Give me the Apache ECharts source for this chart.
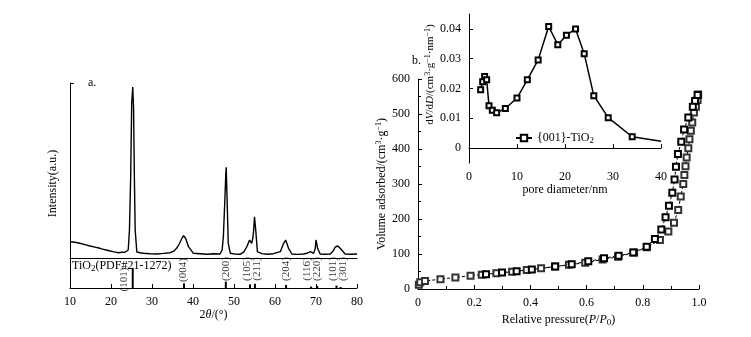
<!DOCTYPE html>
<html>
<head>
<meta charset="utf-8">
<script src="https://cdn.jsdelivr.net/npm/echarts@6/dist/echarts.min.js"></script>
<style>
  html, body { margin: 0; padding: 0; background: #fff; }
  #main { width: 751px; height: 337px; }
</style>
</head>
<body>
<div id="main"></div>
<script>
// ---- XRD pattern (a.)
var xrdTheta = [10, 11.2, 12.4, 13.6, 14.9, 16.1, 17.3, 18.6, 19.8, 20.8, 21.8, 22.6, 23.4, 24.2, 24.5, 24.8, 25.05, 25.2, 25.3, 25.4, 25.5, 25.7, 25.9, 26.3, 27.1, 27.9, 29.5, 31.2, 32.8, 34.4, 35.3, 36.0, 36.7, 37.3, 37.7, 38.2, 38.9, 40.1, 41.7, 43.4, 45.0, 46.6, 47.1, 47.4, 47.8, 48.0, 48.1, 48.3, 48.6, 49.1, 50.3, 51.5, 52.4, 53.1, 53.8, 54.3, 54.6, 54.8, 55.0, 55.3, 55.7, 56.8, 58.0, 59.6, 61.3, 62.1, 62.6, 63.3, 64.1, 65.5, 67.0, 68.0, 68.6, 69.4, 69.8, 70.0, 70.4, 71.0, 72.2, 73.5, 74.2, 74.7, 75.3, 75.9, 76.3, 77.1, 78.5, 80];
var xrdCounts = [16.3, 15.8, 14.7, 13.4, 12.0, 10.9, 9.7, 8.2, 7.0, 6.1, 5.3, 5.8, 5.7, 8, 28, 81, 154.7, 164, 171, 160, 151, 81, 28, 6, 5.2, 4.7, 4.3, 4.0, 4.6, 5.3, 6.8, 9.7, 14.5, 19.7, 22.3, 19.7, 11.3, 4.7, 4.2, 3.7, 4.3, 4.0, 8, 21, 61, 84, 90.7, 61, 14.7, 4.7, 3.9, 3.7, 6.2, 11, 18, 14.7, 20, 28, 41.3, 28, 6.3, 4.4, 3.7, 4.3, 6.3, 14.7, 18, 9.7, 4.0, 3.6, 4.0, 5.0, 6.3, 4.7, 9, 18, 9.7, 4.0, 3.8, 4.0, 7.0, 11, 12, 9.7, 8, 4.0, 3.7, 4.0];

// ---- PDF#21-1272 reference sticks
var stickTheta = [25.3, 37.8, 48.0, 53.9, 55.1, 62.7, 68.8, 70.3, 75.0, 76.0];
var stickHeight = [100, 23, 32, 18, 21, 15, 7, 10, 12, 5];
var hklLabels = ['(101)', '(004)', '(200)', '(105)', '(211)', '(204)', '(116)', '(220)', '(101)', '(301)'];
var hklTheta = [23.3, 37.6, 48.0, 53.3, 55.7, 62.7, 67.9, 70.3, 74.2, 76.6];
var hklLevel = [42, 90, 95, 95, 95, 95, 95, 95, 95, 95];

// ---- N2 isotherm (b.)
var adsP = [0.003, 0.008, 0.025, 0.08, 0.133, 0.187, 0.227, 0.279, 0.335, 0.387, 0.438, 0.488, 0.537, 0.595, 0.657, 0.712, 0.769, 0.814, 0.861, 0.891, 0.911, 0.926, 0.935, 0.944, 0.948, 0.952, 0.956, 0.962, 0.966, 0.971, 0.976, 0.982, 0.989, 0.995, 0.997];
var adsV = [12, 19, 23, 28, 33, 38, 41, 45, 49, 54, 59, 64, 69, 75, 84, 92, 104, 119, 140, 164, 189, 226, 264, 300, 326, 351, 376, 402, 428, 452, 476, 504, 521, 540, 556];
var desP = [0.995, 0.986, 0.978, 0.962, 0.947, 0.937, 0.925, 0.918, 0.913, 0.905, 0.893, 0.881, 0.866, 0.843, 0.814, 0.766, 0.714, 0.662, 0.606, 0.547, 0.488, 0.405, 0.351, 0.299, 0.242];
var desV = [554, 537, 521, 490, 456, 421, 386, 349, 313, 275, 238, 205, 170, 143, 121, 104, 95, 88, 79, 71, 64, 56, 51, 47, 42];

// ---- pore size distribution (inset)
var poreD = [2.43, 2.85, 3.26, 3.68, 4.17, 4.86, 5.76, 7.57, 10.0, 12.15, 14.4, 16.6, 18.5, 20.3, 22.2, 24.0, 26.0, 29.0, 34.0, 40.0];
var poreDV = [0.0196, 0.0223, 0.0240, 0.0229, 0.0142, 0.0127, 0.0119, 0.0133, 0.0168, 0.0229, 0.0296, 0.0408, 0.0347, 0.0379, 0.0400, 0.0317, 0.0176, 0.0102, 0.0038, 0.0023];

function zip(a, b) { return a.map(function (v, i) { return [v, b[i]]; }); }

var FONT = '"Liberation Serif", "DejaVu Serif", serif';
var sub = { fontSize: 9, fontFamily: FONT, padding: [6, 0, 0, 0] };
var sup = { fontSize: 8, fontFamily: FONT, padding: [0, 0, 6, 0] };
var ital = { fontSize: 12, fontFamily: FONT, fontStyle: 'italic' };
var lbl = { color: '#000', fontFamily: FONT, fontSize: 12 };
var axLine = { show: true, lineStyle: { color: '#000', width: 1 } };
var tickIn = { show: true, inside: true, length: 4, lineStyle: { color: '#000' } };
var plainTitle = { color: '#000', fontFamily: FONT, fontSize: 12, fontWeight: 'normal' };

var myChart = echarts.init(document.getElementById('main'), null, { renderer: 'canvas' });

var poreData = zip(poreD, poreDV);
poreData[poreData.length - 1] = { value: poreData[poreData.length - 1], symbol: 'none' };

var option = {
  backgroundColor: '#fff',
  animation: false,
  textStyle: { fontFamily: FONT },
  title: [
    { text: 'a.', left: 88, top: 77, padding: 0, textStyle: plainTitle },
    { text: 'b.', left: 412, top: 55, padding: 0, textStyle: plainTitle },
    { text: 'TiO{s|2}(PDF#21-1272)', left: 72, top: 258, padding: 0,
      textStyle: Object.assign({ rich: { s: sub } }, plainTitle) }
  ],
  legend: {
    left: 510, top: 127, itemWidth: 16, itemHeight: 8, itemGap: 2,
    data: ['{001}-TiO2'],
    textStyle: { color: '#000', fontFamily: FONT, fontSize: 12, rich: { s: sub } },
    formatter: function () { return '{001}-TiO{s|2}'; }
  },
  grid: [
    { left: 70, top: 83, width: 287, height: 175 },
    { left: 70, top: 258, width: 287, height: 30 },
    { left: 418, top: 79, width: 281, height: 210 },
    { left: 469, top: 14, width: 192, height: 149 }
  ],
  xAxis: [
    { gridIndex: 0, type: 'value', min: 10, max: 80, axisLine: axLine,
      axisTick: { show: false }, axisLabel: { show: false }, splitLine: { show: false } },
    { gridIndex: 1, type: 'value', min: 10, max: 80, interval: 10, axisLine: axLine,
      axisTick: tickIn, axisLabel: lbl, splitLine: { show: false },
      name: '2{i|θ}/(°)', nameLocation: 'middle', nameGap: 18,
      nameTextStyle: { color: '#000', fontFamily: FONT, fontSize: 12, rich: { i: ital } } },
    { gridIndex: 2, type: 'value', min: 0, max: 1, interval: 0.2, axisLine: axLine,
      axisTick: tickIn, minorTick: { show: true, splitNumber: 2, length: 3, lineStyle: { color: '#000' } },
      axisLabel: Object.assign({ formatter: function (v) { return v === 0 ? '0' : v.toFixed(1); } }, lbl),
      splitLine: { show: false },
      name: 'Relative pressure({i|P}/{i|P}{s|0})', nameLocation: 'middle', nameGap: 22,
      nameTextStyle: { color: '#000', fontFamily: FONT, fontSize: 12, rich: { i: ital, s: sub } } },
    { gridIndex: 3, type: 'value', min: 0, max: 40, interval: 10, axisLine: axLine,
      axisTick: tickIn, axisLabel: lbl, splitLine: { show: false },
      name: 'pore diameter/nm', nameLocation: 'middle', nameGap: 19,
      nameTextStyle: { color: '#000', fontFamily: FONT, fontSize: 12 } }
  ],
  yAxis: [
    { gridIndex: 0, type: 'value', min: 0, max: 175, axisLine: axLine,
      axisTick: { show: true, inside: true, length: 4, customValues: [175], lineStyle: { color: '#000' } },
      axisLabel: { show: false }, splitLine: { show: false },
      name: 'Intensity(a.u.)', nameLocation: 'middle', nameGap: 11,
      nameTextStyle: { color: '#000', fontFamily: FONT, fontSize: 12, padding: [0, 0, 0, -26] } },
    { gridIndex: 1, type: 'value', min: 0, max: 150, axisLine: axLine,
      axisTick: { show: false }, axisLabel: { show: false }, splitLine: { show: false } },
    { gridIndex: 2, type: 'value', min: 0, max: 600, interval: 100, axisLine: axLine,
      axisTick: tickIn, minorTick: { show: true, splitNumber: 2, length: 3, lineStyle: { color: '#000' } },
      axisLabel: lbl, splitLine: { show: false },
      name: 'Volume adsorbed/(cm{u|3}·g{u|−1})', nameLocation: 'middle', nameGap: 24,
      nameTextStyle: { color: '#000', fontFamily: FONT, fontSize: 12, rich: { u: sup } } },
    { gridIndex: 3, type: 'value', min: -0.005, max: 0.045, axisLine: axLine,
      axisTick: { show: true, inside: true, length: 4, customValues: [0, 0.01, 0.02, 0.03, 0.04], lineStyle: { color: '#000' } },
      axisLabel: Object.assign({ customValues: [0, 0.01, 0.02, 0.03, 0.04] }, lbl),
      splitLine: { show: false },
      name: '{w| }d{i|V}/d{i|D}/(cm{u|3}·g{u|−1}·nm{u|−1})', nameLocation: 'middle', nameGap: 29,
      nameTextStyle: { color: '#000', fontFamily: FONT, fontSize: 11,
        rich: { i: { fontSize: 11, fontFamily: FONT, fontStyle: 'italic' }, u: sup, w: { width: 28 } } } }
  ],
  series: [
    { type: 'line', xAxisIndex: 0, yAxisIndex: 0, data: zip(xrdTheta, xrdCounts),
      symbol: 'none', lineStyle: { color: '#000', width: 1.4 } },
    { type: 'bar', xAxisIndex: 1, yAxisIndex: 1, data: zip(stickTheta, stickHeight),
      barWidth: 2, itemStyle: { color: '#000' } },
    { type: 'scatter', xAxisIndex: 1, yAxisIndex: 1, symbolSize: 0,
      data: hklTheta.map(function (t, i) { return { value: [t, hklLevel[i]], name: hklLabels[i] }; }),
      label: { show: true, position: 'inside', rotate: 90, formatter: '{b}',
        color: '#000', fontFamily: FONT, fontSize: 11 } },
    { type: 'line', xAxisIndex: 2, yAxisIndex: 2, data: zip(adsP, adsV),
      symbol: 'emptyRect', symbolSize: 6,
      itemStyle: { color: '#333', borderWidth: 1 },
      lineStyle: { color: '#000', width: 1, type: [3, 2] } },
    { type: 'line', xAxisIndex: 2, yAxisIndex: 2, data: zip(desP, desV),
      symbol: 'emptyRect', symbolSize: 6,
      itemStyle: { color: '#000', borderWidth: 1 },
      lineStyle: { color: '#000', width: 1, type: [3, 2] } },
    { type: 'line', name: '{001}-TiO2', xAxisIndex: 3, yAxisIndex: 3, data: poreData,
      symbol: 'emptyRect', symbolSize: 5,
      itemStyle: { color: '#000', borderWidth: 1 },
      lineStyle: { color: '#000', width: 1.5 } }
  ]
};
myChart.setOption(option);
</script>
</body>
</html>
